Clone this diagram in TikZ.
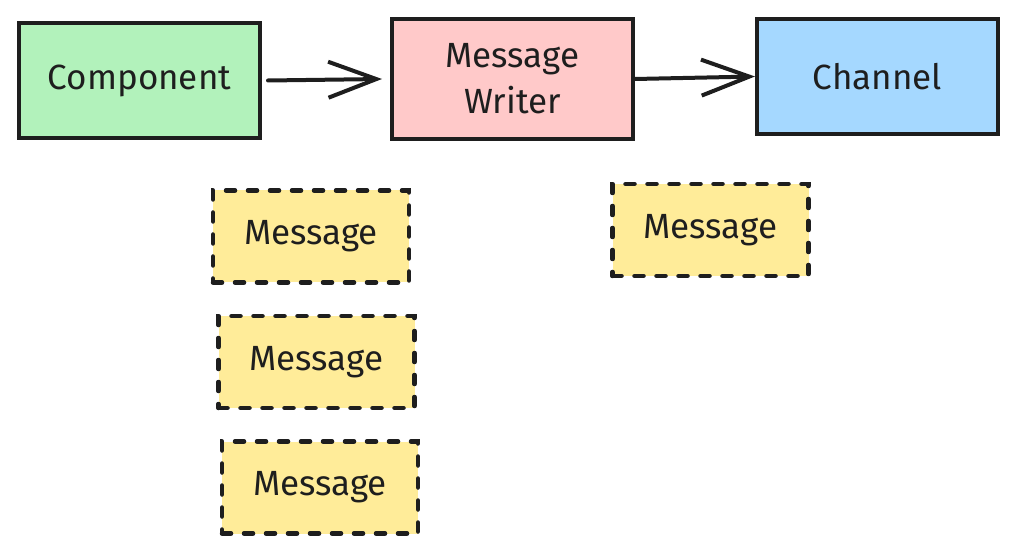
\documentclass[tikz,border=0pt]{standalone}
\usepackage{fontspec}
\setmainfont{Fira Sans}
\usetikzlibrary{arrows.meta}
\definecolor{cgreen}{HTML}{B2F2BB}
\definecolor{cpink}{HTML}{FFC9C9}
\definecolor{cblue}{HTML}{A5D8FF}
\definecolor{cyellow}{HTML}{FFEC99}
\definecolor{cink}{HTML}{1E1E1E}
\tikzset{
  box/.style={draw=cink, line width=4pt, rectangle, inner sep=0pt, align=center,
    font=\fontsize{35}{46}\selectfont, text=cink},
  msgbox/.style={box, fill=cyellow, line width=4.5pt, line cap=round,
    dash pattern=on 9pt off 13pt, minimum width=196pt, minimum height=92pt},
  conn/.style={draw=cink, line width=4pt, line cap=round,
    -{Straight Barb[length=48pt,width=36pt,line width=4pt]}}
}
\begin{document}
\begin{tikzpicture}[x=1pt,y=-1pt]
\useasboundingbox (0,0) rectangle (1017,553);
\node[box, fill=cgreen, minimum width=241pt, minimum height=115pt] (comp) at (139.5,80.5) {Component};
\node[box, fill=cpink, minimum width=241pt, minimum height=120pt] (writer) at (512.5,79) {Message\\Writer};
\node[box, fill=cblue, minimum width=241pt, minimum height=115pt] (chan) at (877.5,76.5) {Channel};
\node[msgbox] (m1) at (311,236.5) {Message};
\node[msgbox] (m2) at (316.5,362) {Message};
\node[msgbox] (m3) at (320,487.5) {Message};
\node[msgbox] (m4) at (710.5,230) {Message};
\draw[conn] ([xshift=6pt]comp.east) -- ([xshift=-8pt]writer.west);
\draw[conn] (writer.east) -- (chan.west);
\end{tikzpicture}
\end{document}
